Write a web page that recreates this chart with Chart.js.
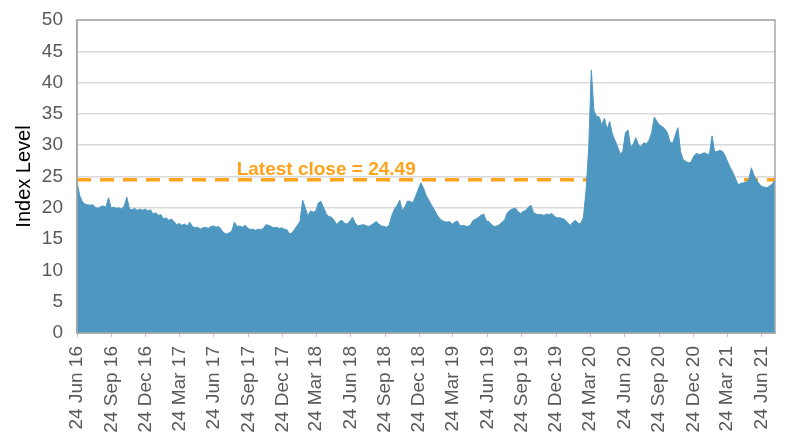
<!DOCTYPE html>
<html>
<head>
<meta charset="utf-8">
<script src="https://cdn.jsdelivr.net/npm/chart.js@4.4.1/dist/chart.umd.min.js"></script>
<style>
  html, body { margin: 0; padding: 0; background: #ffffff; }
  #wrap { width: 790px; height: 444px; }
</style>
</head>
<body>
<div id="wrap"><canvas id="c" width="790" height="444"></canvas></div>
<script>
// ---- data ----
const seriesStart = "2016-06-24";          // first weekly observation
const weeklyIndexLevel = [
  24.2,22.0,21.0,20.6,20.5,20.4,20.5,20.1,19.9,20.2,
  20.3,20.1,21.6,20.0,20.1,19.9,20.0,19.8,20.3,21.7,
  19.8,19.7,19.9,19.6,19.8,19.6,19.8,19.5,19.7,19.0,
  19.2,18.8,18.9,18.2,18.4,18.0,18.2,17.8,17.3,17.5,
  17.2,17.4,17.1,17.7,17.0,16.8,16.9,16.6,16.8,16.9,
  16.7,17.0,17.1,16.9,17.0,16.5,16.0,15.8,16.0,16.3,
  17.7,17.0,17.1,16.9,17.2,16.8,16.5,16.6,16.4,16.6,
  16.5,16.7,17.3,17.2,17.0,16.8,16.9,16.7,16.8,16.6,
  16.5,15.8,16.0,16.6,17.2,17.8,21.2,20.0,18.7,19.5,
  19.3,19.5,20.8,21.0,20.0,19.0,18.6,18.5,18.0,17.3,
  17.8,18.0,17.5,17.4,17.9,18.5,17.6,17.1,17.2,17.3,
  17.2,17.0,17.2,17.5,17.8,17.4,17.1,17.0,16.9,17.3,
  18.8,19.8,20.4,21.2,19.5,20.2,21.1,21.0,20.8,21.8,
  22.9,24.0,23.2,22.0,21.3,20.5,19.8,19.0,18.4,18.0,
  17.8,17.7,17.8,17.4,17.7,17.9,17.1,17.2,17.1,17.0,
  17.3,18.0,18.2,18.5,18.8,19.0,17.9,17.8,17.3,17.0,
  17.1,17.3,17.7,18.1,19.2,19.6,19.8,20.0,19.4,19.1,
  19.4,19.6,20.1,20.4,19.2,19.0,18.9,18.9,18.8,19.0,
  18.9,19.1,18.6,18.4,18.4,18.3,18.1,17.6,17.2,17.7,
  18.0,17.5,17.5,18.5,22.8,29.5,42.0,35.5,34.6,34.5,
  33.2,34.3,32.5,33.8,31.8,30.8,29.8,28.6,29.0,32.0,
  32.4,29.6,30.2,31.2,30.0,29.8,30.4,30.2,30.8,32.0,
  34.5,33.8,33.2,33.0,32.6,32.0,30.5,30.3,31.6,32.8,
  29.0,27.7,27.4,27.2,27.3,28.2,28.7,28.5,28.6,28.8,
  28.6,28.5,31.5,28.9,29.0,29.2,29.0,28.3,27.3,26.4,
  25.6,24.6,23.7,23.9,24.0,24.1,24.5,26.4,25.2,24.4,
  23.8,23.4,23.3,23.2,23.5,23.8,24.49
];
const latestClose = 24.49;
const tickLabels = [
  "24 Jun 16","24 Sep 16","24 Dec 16","24 Mar 17","24 Jun 17","24 Sep 17",
  "24 Dec 17","24 Mar 18","24 Jun 18","24 Sep 18","24 Dec 18","24 Mar 19",
  "24 Jun 19","24 Sep 19","24 Dec 19","24 Mar 20","24 Jun 20","24 Sep 20",
  "24 Dec 20","24 Mar 21","24 Jun 21"
];
const yTicks = { min: 0, max: 50, step: 5 };
const axisTitle = "Index Level";
const annotationText = "Latest close = " + latestClose.toFixed(2);

// ---- helpers ----
const DAY = 86400000;
const MONTHS = ["Jan","Feb","Mar","Apr","May","Jun","Jul","Aug","Sep","Oct","Nov","Dec"];
const t0 = Date.parse(seriesStart + "T00:00:00Z");
function labelToDay(lbl) {
  const p = lbl.split(" ");
  const t = Date.UTC(2000 + parseInt(p[2], 10), MONTHS.indexOf(p[1]), parseInt(p[0], 10));
  return Math.round((t - t0) / DAY);
}
const points = weeklyIndexLevel.map((v, i) => ({ x: i * 7, y: v }));
const lastDay = (weeklyIndexLevel.length - 1) * 7;
const tickDays = tickLabels.map(labelToDay);
const tickMap = {};
tickDays.forEach((d, i) => { tickMap[d] = tickLabels[i]; });

const FONT = "'Liberation Sans', Arial, sans-serif";

const framePlugin = {
  id: 'frame',
  afterDatasetsDraw(chart) {
    const a = chart.chartArea, ctx = chart.ctx;
    ctx.save();
    ctx.strokeStyle = '#a6a6a6';
    ctx.lineWidth = 1.5;
    ctx.strokeRect(a.left, a.top, a.right - a.left, a.bottom - a.top);
    // annotation label
    const y = chart.scales.y.getPixelForValue(latestClose);
    ctx.fillStyle = '#FFA31A';
    ctx.font = "bold 19px " + FONT;
    ctx.textAlign = 'center';
    ctx.textBaseline = 'alphabetic';
    ctx.fillText(annotationText, a.left + (a.right - a.left) * 0.357, y - 5);
    ctx.restore();
  }
};

new Chart(document.getElementById('c'), {
  type: 'line',
  data: {
    datasets: [
      {
        data: points,
        fill: 'origin',
        backgroundColor: '#4d97c1',
        borderColor: '#4d97c1',
        borderWidth: 1,
        pointRadius: 0,
        tension: 0
      },
      {
        data: [{ x: 0, y: latestClose }, { x: lastDay, y: latestClose }],
        fill: false,
        borderColor: '#FFA31A',
        borderWidth: 3.5,
        borderDash: [14, 9],
        pointRadius: 0
      }
    ]
  },
  options: {
    responsive: false,
    animation: false,
    devicePixelRatio: 1,
    layout: { padding: { left: 0, right: 15, top: 20, bottom: 0 } },
    plugins: { legend: { display: false }, tooltip: { enabled: false } },
    scales: {
      x: {
        type: 'linear',
        min: 0,
        max: lastDay,
        afterBuildTicks(scale) { scale.ticks = tickDays.map(v => ({ value: v })); },
        afterFit(scale) { scale.height = 111; scale.paddingLeft = 0; scale.paddingRight = 0; },
        ticks: {
          autoSkip: false,
          maxRotation: 90,
          minRotation: 90,
          padding: 9,
          color: '#595959',
          font: { family: FONT, size: 19 },
          callback: (v) => tickMap[v] || ''
        },
        grid: { drawOnChartArea: false, drawTicks: true, tickLength: 4, color: '#bfbfbf', lineWidth: 1 },
        border: { display: true, color: '#a6a6a6', width: 1.5 }
      },
      y: {
        min: yTicks.min,
        max: yTicks.max,
        afterFit(scale) { scale.width = 77; scale.paddingTop = 0; scale.paddingBottom = 0; },
        ticks: {
          stepSize: yTicks.step,
          padding: 14,
          color: '#595959',
          font: { family: FONT, size: 19 }
        },
        title: {
          display: true,
          text: axisTitle,
          color: '#000000',
          font: { family: FONT, size: 20 },
          padding: { top: 12, bottom: 0 }
        },
        grid: { color: '#d9d9d9', lineWidth: 1.5, drawTicks: false },
        border: { display: true, color: '#a6a6a6', width: 1.5 }
      }
    }
  },
  plugins: [framePlugin]
});
</script>
</body>
</html>
